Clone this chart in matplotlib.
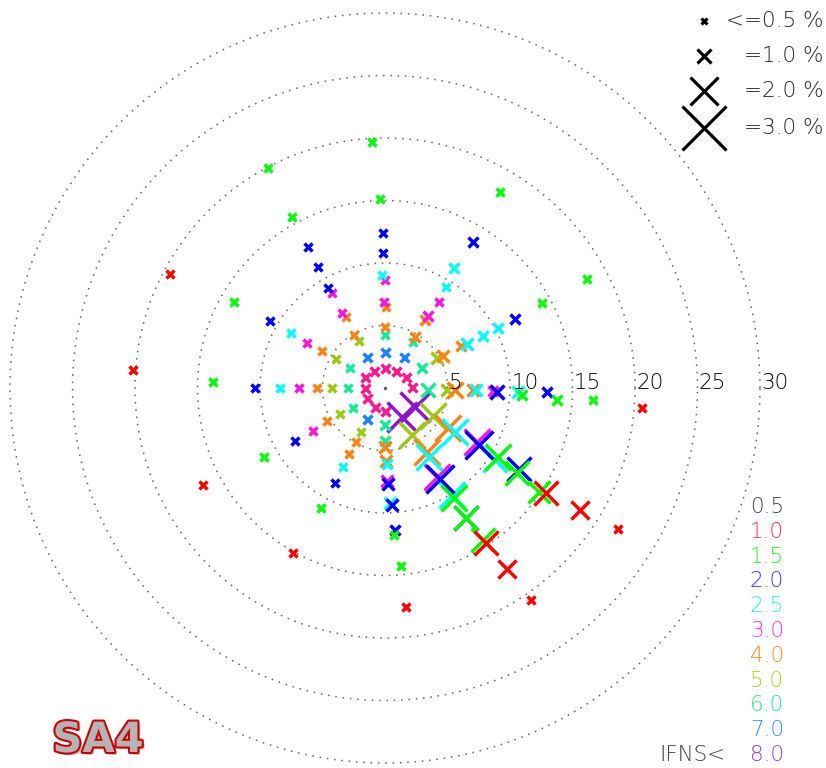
import numpy as np
import matplotlib.pyplot as plt
import matplotlib.patheffects as pe

# ring radii (percent)
rings = [5, 10, 15, 20, 25, 30]

# class labels shown in the colour key (IFNS thresholds)
class_labels = ['0.5', '1.0', '1.5', '2.0', '2.5', '3.0', '4.0', '5.0', '6.0', '7.0', '8.0']
label_colors = ['#404040', '#ff3838', '#28ec28', '#3838ff', '#28ecec', '#ff38dc',
                '#ff8c28', '#a0d428', '#28e490', '#3890ff', '#9838dc']

# points per class: direction (deg, ccw from east), radius (%), marker percent
deep_ang = [2, 28, 57, 90, 123, 151, 180, 209, 242, 270]
deep_r = [2.16, 1.9, 1.6, 1.6, 1.6, 1.83, 1.6, 1.65, 1.7, 1.84]
deep_pct = [0.7, 0.7, 0.7, 0.7, 0.7, 0.7, 0.7, 0.7, 0.7, 0.7]

purple_ang = [300.4, 327.7]
purple_r = [2.69, 2.84]
purple_pct = [2.1, 2.1]

skyblue_ang = [58.5, 90, 120, 240]
skyblue_r = [2.9, 2.88, 2.87, 2.87]
skyblue_pct = [0.7, 0.7, 0.7, 0.7]

aqua_ang = [-2.7, 28.4, 58.7, 90, 150, 180, 212, 270, 270]
aqua_r = [3.44, 3.36, 4.3, 4.24, 3.2, 2.96, 3.0, 2.96, 4.24]
aqua_pct = [1.0, 0.81, 0.69, 0.69, 0.69, 0.69, 0.69, 0.75, 0.81]

ygreen_ang = [-2, 30, 119, 149, 180, 210, 241, 300, 330]
ygreen_r = [4.96, 4.8, 4.3, 4.55, 4.24, 4.16, 4.0, 4.3, 4.4]
ygreen_pct = [0.94, 0.87, 0.69, 0.69, 0.69, 0.69, 0.69, 1.9, 1.9]

orange_ang = [-1.6, -1.3, 28.9, 29, 59.5, 59.5, 90, 89.3, 120, 119, 149.6, 180, 209.6,
              242, 241, 270, 270.8, 303.3, 327.6]
orange_r = [5.6, 7.04, 5.3, 6.95, 4.7, 6.3, 4.88, 6.48, 4.9, 6.5, 5.85, 5.44, 5.3,
            4.9, 6.0, 4.72, 5.84, 6.1, 6.0]
orange_pct = [1.19, 0.94, 0.94, 0.81, 0.75, 0.75, 0.69, 0.69, 0.69, 0.69, 0.69, 0.69, 0.69,
              0.69, 0.69, 0.94, 0.87, 1.85, 1.85]

magenta_ang = [-1.6, 59, 58, 90, 90.7, 120, 119, 150, 180, 211, 271, 300.3, 329.6]
magenta_r = [8.64, 6.7, 8.1, 8.64, 6.88, 6.9, 8.7, 7.2, 6.88, 6.7, 7.44, 8.25, 8.5]
magenta_pct = [0.81, 0.75, 0.69, 0.69, 0.69, 0.69, 0.69, 0.69, 0.69, 0.69, 0.87, 1.85, 1.85]

cyan_ang = [-1.3, -1.7, 28, 28, 28, 59, 60, 91.5, 149.7, 180, 242, 271.5, 272.5,
            302.5, 302, 327.8, 326.8]
cyan_r = [7.3, 10.64, 7.44, 8.87, 10.2, 9.4, 11.1, 9.04, 8.7, 8.4, 7.2, 6.08, 9.2,
          6.55, 10.1, 6.6, 10.5]
cyan_pct = [0.87, 0.87, 0.87, 0.81, 0.81, 0.69, 0.75, 0.69, 0.69, 0.69, 0.69, 0.81, 0.87,
            1.85, 1.85, 1.85, 1.75]

blue_ang = [-2, -1.4, 28, 59, 90.8, 90.7, 120, 119, 118.6, 149.8, 180, 210.5, 242,
            272, 273.4, 274, 301, 302, 328.8, 328.8]
blue_r = [8.96, 13.0, 11.8, 13.6, 10.8, 12.4, 9.2, 11.1, 12.85, 10.65, 10.4, 8.35, 8.6,
          7.68, 9.4, 11.4, 8.5, 12.3, 8.8, 12.5]
blue_pct = [1.0, 0.75, 0.75, 0.75, 0.69, 0.69, 0.69, 0.69, 0.69, 0.69, 0.69, 0.69, 0.69,
            0.94, 0.87, 0.75, 1.95, 1.75, 1.95, 1.65]

green_ang = [-2.9, -4.0, -3.3, 28.4, 28.4, 59.6, 91.5, 93, 118.5, 118, 150.3, 178, 209.7,
             242, 273.5, 275, 302, 302, 302.8, 328.6, 327.2, 326]
green_r = [11.0, 13.8, 16.65, 14.3, 18.4, 18.2, 15.1, 19.7, 15.6, 19.9, 13.9, 13.8, 11.1,
           10.9, 11.8, 14.3, 10.4, 12.3, 14.5, 10.6, 12.56, 14.9]
green_pct = [0.81, 0.75, 0.69, 0.69, 0.69, 0.69, 0.62, 0.62, 0.62, 0.62, 0.62, 0.62, 0.62,
             0.62, 0.69, 0.62, 1.85, 1.75, 1.65, 1.85, 1.75, 1.55]

red_ang = [-4.4, 152, 176, 208, 241, 275.5, 303, 304, 304.5, 327, 328, 328.8]
red_r = [20.6, 19.5, 20.2, 16.5, 15.1, 17.6, 14.8, 17.5, 20.6, 15.4, 18.4, 21.8]
red_pct = [0.62, 0.62, 0.62, 0.62, 0.62, 0.62, 1.65, 1.3, 0.62, 1.65, 1.3, 0.62]

# size key (percent)
key_pct = [0.5, 1.0, 2.0, 3.0]
key_text = ['<=0.5 %', '=1.0 %', '=2.0 %', '=3.0 %']

# drawing order: innermost class first, red on top
groups = [
    (deep_ang, deep_r, deep_pct, '#ff1a8c'),
    (purple_ang, purple_r, purple_pct, '#8c14d2'),
    (skyblue_ang, skyblue_r, skyblue_pct, '#1e82ff'),
    (aqua_ang, aqua_r, aqua_pct, '#14eb96'),
    (ygreen_ang, ygreen_r, ygreen_pct, '#9cc814'),
    (orange_ang, orange_r, orange_pct, '#ff8214'),
    (magenta_ang, magenta_r, magenta_pct, '#ff14dc'),
    (cyan_ang, cyan_r, cyan_pct, '#00ffff'),
    (blue_ang, blue_r, blue_pct, '#0000ff'),
    (green_ang, green_r, green_pct, '#00ff00'),
    (red_ang, red_r, red_pct, '#ff0000'),
]


def msize(p):
    # marker size in points from percent
    return (15 * p - 1.5) * 0.72


W, H = 826, 768
fig = plt.figure(figsize=(W / 100, H / 100), dpi=100)
ax = fig.add_axes([0, 0, 1, 1])
ax.set_xlim(-30.8, 35.28)
ax.set_ylim(-30.4, 31.04)
ax.axis('off')

txtfont = ['DejaVu Sans']
fw = 'light'

t = np.linspace(0, 2 * np.pi, 900)
for r in rings:
    ax.plot(r * np.cos(t), r * np.sin(t), color='#606060', lw=1.1,
            linestyle=(0, (1, 3.8)))
    ax.text(r + 0.12, -0.05, str(r), ha='left', va='baseline', fontsize=15.5,
            color='black', family=txtfont, fontweight=fw)
ax.plot([0], [0], marker='o', ms=1.5, color='#606060')

for ang, rad, pct, col in groups:
    a = np.radians(ang)
    xs = np.array(rad) * np.cos(a)
    ys = np.array(rad) * np.sin(a)
    for x, y, p in zip(xs, ys, pct):
        ax.plot([x], [y], marker='x', ms=msize(p), mew=2.5, color=col,
                linestyle='none')

# size key, top right
key_y = [21, 56, 91, 128]
for p, s, yy in zip(key_pct, key_text, key_y):
    ax.plot([704 / W], [1 - yy / H], marker='x', ms=msize(p), mew=2.3,
            color='black', transform=ax.transAxes, clip_on=False)
    ax.text(824 / W, 1 - yy / H, s, ha='right', va='center', fontsize=15.5,
            color='#202020', family=txtfont, fontweight=fw, transform=ax.transAxes)

# colour key, bottom right
for i, (lab, col) in enumerate(zip(class_labels, label_colors)):
    yy = 507 + 24.8 * i
    ax.text(784 / W, 1 - yy / H, lab, ha='right', va='center', fontsize=15.5,
            color=col, family=txtfont, fontweight=fw, transform=ax.transAxes)
ax.text(726 / W, 1 - 755 / H, 'IFNS<', ha='right', va='center', fontsize=15.5,
        color='#404040', family=txtfont, fontweight=fw, transform=ax.transAxes)

# station tag
ax.text(98 / W, 1 - 740 / H, 'SA4', ha='center', va='center', fontsize=30,
        fontweight='bold', color='#b4b4b4', family='DejaVu Sans',
        transform=ax.transAxes,
        path_effects=[pe.SimplePatchShadow(offset=(2, -2), shadow_rgbFace='#808080', alpha=0.5),
                      pe.Stroke(linewidth=3, foreground='#cc0000'), pe.Normal()])

fig.savefig('out.png', dpi=100)
